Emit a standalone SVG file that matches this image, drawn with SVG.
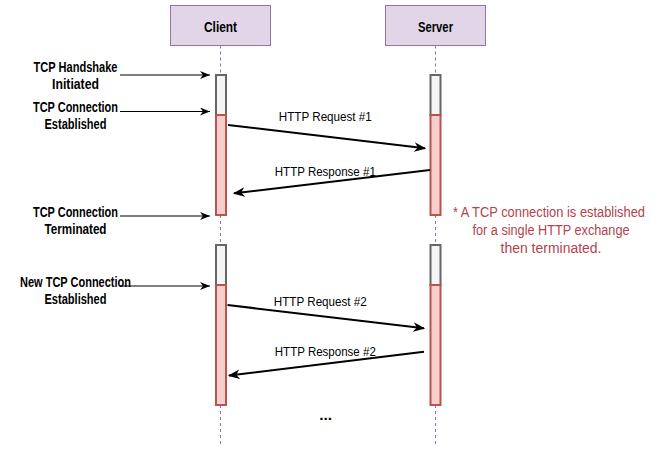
<svg xmlns="http://www.w3.org/2000/svg" width="666" height="451" viewBox="0 0 666 451">
<style>
text{font-family:"Liberation Sans",Arial,sans-serif;fill:#000}
.actor{fill:#e1d5e7;stroke:#9673a6;stroke-width:1}
.hs{fill:#f5f5f5;stroke:#666666;stroke-width:2}
.act{fill:#f8cecc;stroke:#b85450;stroke-width:2}
.life{stroke:#9673a6;stroke-width:1;stroke-dasharray:3 3;fill:none}
.lbl{font-size:14px;font-weight:bold;text-anchor:middle}
.msg{font-size:13.5px;text-anchor:middle}
.note{font-size:14px;fill:#b5424c}
.thin{stroke:#000;stroke-width:1.2;fill:none;marker-end:url(#arr)}
.thick{stroke:#000;stroke-width:2;fill:none;marker-end:url(#arr2)}
</style>
<defs>
<marker id="arr" viewBox="0 0 10 8" refX="10" refY="4" markerWidth="10" markerHeight="8" markerUnits="userSpaceOnUse" orient="auto">
<path d="M0,0 L10,4 L0,8 L3,4 Z" fill="#000"/>
</marker>
<marker id="arr2" viewBox="0 0 10 8" refX="9" refY="4" markerWidth="12" markerHeight="10" markerUnits="userSpaceOnUse" orient="auto">
<path d="M0,0 L10,4 L0,8 L3,4 Z" fill="#000"/>
</marker>
</defs>

<g id="client">
<rect class="actor" x="170.5" y="5.5" width="100" height="40"/>
<text class="lbl" x="220.5" y="31.5" textLength="33" lengthAdjust="spacingAndGlyphs">Client</text>
</g>
<g id="server">
<rect class="actor" x="385.5" y="5.5" width="100" height="40"/>
<text class="lbl" x="435.5" y="31.5" textLength="35" lengthAdjust="spacingAndGlyphs">Server</text>
</g>

<g id="lifelines">
<path class="life" d="M220.5,45.5 V75 M220.5,215 V245 M220.5,405 V445"/>
<path class="life" d="M435.5,45.5 V75 M435.5,215 V245 M435.5,405 V445"/>
</g>

<g id="client-bars">
<rect class="hs" x="216" y="75" width="10" height="40"/>
<rect class="act" x="216" y="115" width="10" height="100"/>
<rect class="hs" x="216" y="245" width="10" height="40"/>
<rect class="act" x="216" y="285" width="10" height="120"/>
</g>
<g id="server-bars">
<rect class="hs" x="430.5" y="75" width="10" height="40"/>
<rect class="act" x="430.5" y="115" width="10" height="100"/>
<rect class="hs" x="430.5" y="245" width="10" height="40"/>
<rect class="act" x="430.5" y="285" width="10" height="120"/>
</g>

<g id="label-handshake">
<text class="lbl" x="75.5" y="72" textLength="84" lengthAdjust="spacingAndGlyphs">TCP Handshake</text>
<text class="lbl" x="75.5" y="89" textLength="47" lengthAdjust="spacingAndGlyphs">Initiated</text>
</g>
<g id="label-established">
<text class="lbl" x="75.5" y="112" textLength="85" lengthAdjust="spacingAndGlyphs">TCP Connection</text>
<text class="lbl" x="75.5" y="129" textLength="62" lengthAdjust="spacingAndGlyphs">Established</text>
</g>
<g id="label-terminated">
<text class="lbl" x="75.5" y="216.5" textLength="85" lengthAdjust="spacingAndGlyphs">TCP Connection</text>
<text class="lbl" x="75.5" y="234" textLength="62" lengthAdjust="spacingAndGlyphs">Terminated</text>
</g>
<g id="label-new">
<text class="lbl" x="75.5" y="286.5" textLength="111" lengthAdjust="spacingAndGlyphs">New TCP Connection</text>
<text class="lbl" x="75.5" y="303.5" textLength="62" lengthAdjust="spacingAndGlyphs">Established</text>
</g>

<g id="connectors">
<path class="thin" d="M120,75 H210"/>
<path class="thin" d="M120,111.5 H210"/>
<path class="thin" d="M120,216 H210"/>
<path class="thin" d="M120,286 H210"/>
<path class="thick" d="M228,125 L425,148.3"/>
<path class="thick" d="M430,170 L234,193.3"/>
<path class="thick" d="M227.5,305 L424,328.3"/>
<path class="thick" d="M424,351.7 L229,375.5"/>
</g>

<g id="messages">
<text class="msg" x="325.3" y="120.5" textLength="93" lengthAdjust="spacingAndGlyphs">HTTP Request #1</text>
<text class="msg" x="325.3" y="176" textLength="101" lengthAdjust="spacingAndGlyphs">HTTP Response #1</text>
<text class="msg" x="320.3" y="306" textLength="93" lengthAdjust="spacingAndGlyphs">HTTP Request #2</text>
<text class="msg" x="325.3" y="356" textLength="101" lengthAdjust="spacingAndGlyphs">HTTP Response #2</text>
</g>

<g id="note">
<text class="note" x="453" y="216.5" textLength="192" lengthAdjust="spacingAndGlyphs">* A TCP connection is established</text>
<text class="note" x="472.5" y="235" textLength="157" lengthAdjust="spacingAndGlyphs">for a single HTTP exchange</text>
<text class="note" x="500.5" y="253.3" textLength="101" lengthAdjust="spacingAndGlyphs">then terminated.</text>
</g>

<g id="ellipsis">
<text class="lbl" x="325.7" y="420" textLength="13" lengthAdjust="spacingAndGlyphs">...</text>
</g>
</svg>
